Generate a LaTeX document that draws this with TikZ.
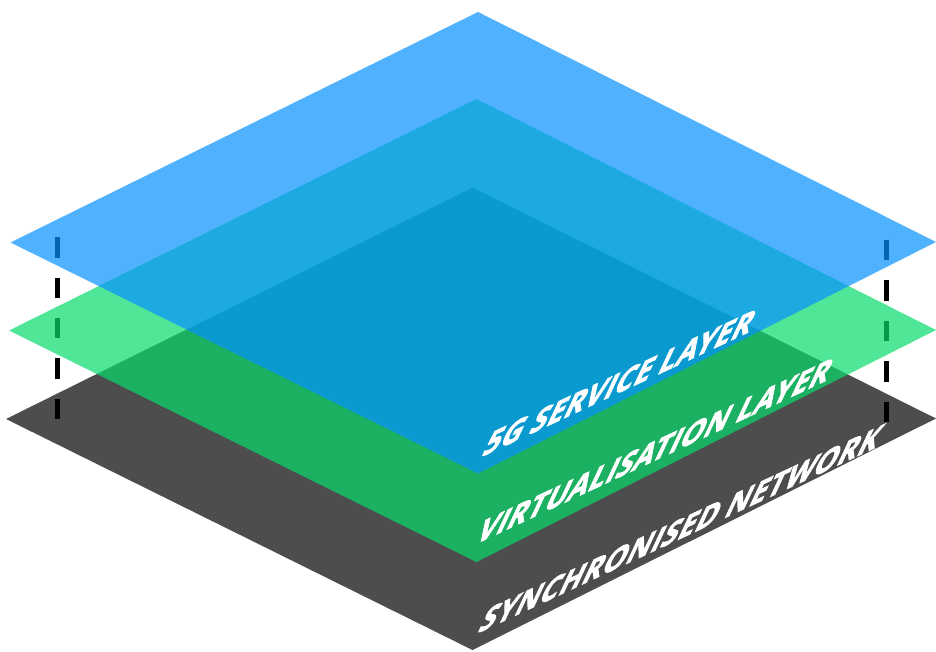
\documentclass[tikz,border=0pt]{standalone}
\usepackage{fontspec}
\newfontfamily\lblfont{Open Sans}[BoldFeatures={FakeBold=3}, LetterSpace=2.5]
\definecolor{layergray}{RGB}{77,77,77}
\definecolor{layergreen}{RGB}{6,219,107}
\definecolor{layerblue}{RGB}{5,146,255}
\begin{document}
\begin{tikzpicture}[x=1pt,y=1pt,
  sheet/.style={draw=none},
  lbl/.style={text=white, font=\lblfont\bfseries\fontsize{32.3}{40}\selectfont,
    inner sep=0pt, anchor=base west, cm={0.9063,0.4226,0.4987,1.0694,(0,0)}},
  guide/.style={draw=black, line width=5pt, dash pattern=on 20.4pt off 20pt}]
\useasboundingbox (0,0) rectangle (936,651);
% synchronised network (bottom)
\fill[sheet, layergray] (6,232) -- (473,463.5) -- (936,232.5) -- (472.5,1) -- cycle;
% dashed guides
\coordinate (lt) at (57.5,413.7);
\coordinate (lb) at (57.5,231.7);
\coordinate (rt) at (886.7,411);
\coordinate (rb) at (886.7,229.3);
\draw[guide] (lt) -- (lb);
\draw[guide] (rt) -- (rb);
% virtualisation layer
\fill[sheet, layergreen, fill opacity=0.7] (9,320.5) -- (476.5,552) -- (936,321) -- (476.5,89) -- cycle;
% 5G service layer
\fill[sheet, layerblue, fill opacity=0.7] (10.5,408.5) -- (478,639) -- (936,409) -- (478,177.5) -- cycle;
% labels
\node[lbl] (l1) at (480.5,193.8) {5G SERVICE LAYER};
\node[lbl] (l2) at (474,106.2) {VIRTUALISATION LAYER};
\node[lbl] (l3) at (476.5,17.3) {SYNCHRONISED NETWORK};
\end{tikzpicture}
\end{document}
